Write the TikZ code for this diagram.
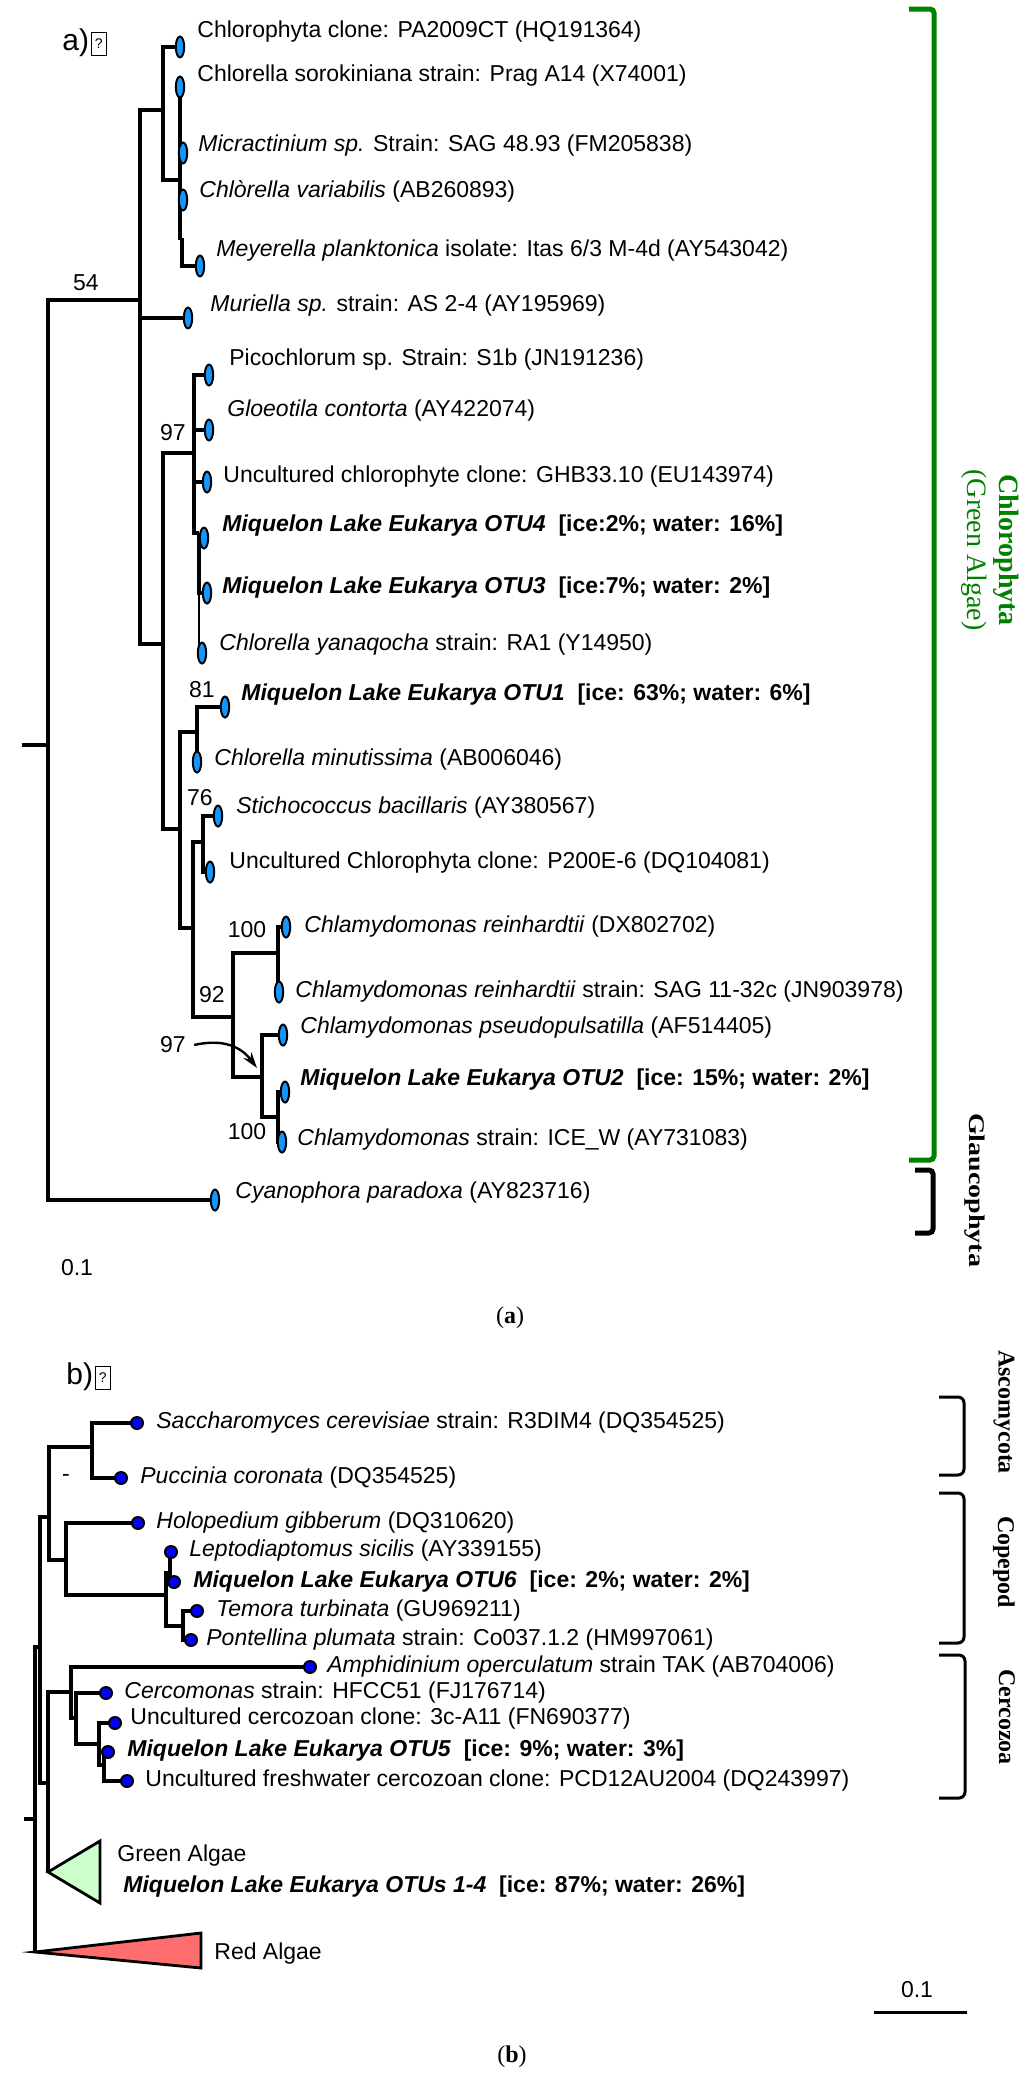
\documentclass[tikz,border=0pt]{standalone}
\usepackage{fontspec}
\setmainfont{Liberation Sans}
\newfontfamily\timesfont{Liberation Serif}
\usepackage{tikz}
\usetikzlibrary{arrows.meta,backgrounds,shapes.geometric}
\definecolor{tipblue}{RGB}{20,150,255}
\definecolor{cladegreen}{RGB}{0,128,0}
\definecolor{algaegreen}{RGB}{204,255,204}
\definecolor{algaered}{RGB}{255,110,110}
\newcommand{\otulabel}[2]{\textbf{\textit{Miquelon Lake Eukarya #1}\ \ [#2]}}
\newcommand{\missingglyph}{\kern1pt{\setlength{\fboxsep}{0pt}\setlength{\fboxrule}{0.4pt}\fbox{\parbox[c][11pt][c]{7pt}{\centering\fontsize{7}{7}\selectfont ?}}}}

\begin{document}
\begin{tikzpicture}[x=0.5pt,y=-0.5pt,
  branch/.style={line width=1.75pt},
  branchb/.style={line width=1.6pt},
  tipa/.style={ellipse,draw=black,fill=tipblue,line width=1pt,minimum width=4.2pt,minimum height=10.5pt,inner sep=0pt},
  tipb/.style={circle,draw=black,fill=blue,line width=1pt,minimum size=6pt,inner sep=0pt},
  leaf/.style={anchor=west,inner sep=0pt,font=\fontsize{11.5}{13}\selectfont},
  boot/.style={inner sep=0pt,font=\fontsize{11.5}{13}\selectfont},
  clade/.style={rotate=-90,inner sep=0pt,align=center,font=\timesfont\fontsize{12}{14}\selectfont},
  bracket/.style={line width=1.5pt,rounded corners=3pt}]
\useasboundingbox (0,0) rectangle (1024,2077);

% panel a
\node[anchor=west,inner sep=0pt,font=\fontsize{15}{18}\selectfont] (taga) at (62,43) {a)\missingglyph};

\coordinate (sa) at (22,745);
\coordinate (ra) at (48,745);
\coordinate (nA) at (140,300);
\coordinate (n1) at (163,110);
\coordinate (n1b) at (180,180);
\coordinate (n1c) at (182,238);
\coordinate (n2) at (163,644);
\coordinate (n97) at (194,453);
\coordinate (n97b) at (199,533);
\coordinate (n3) at (180,829);
\coordinate (n81) at (197,732);
\coordinate (n4) at (193,928);
\coordinate (n76) at (203,842);
\coordinate (n92) at (233,1017);
\coordinate (n100a) at (278,953);
\coordinate (n97c) at (262,1077);
\coordinate (n100b) at (278,1117);

\node[tipa] (tPA) at (180,47) {};
\node[tipa] (tSoro) at (180,87) {};
\node[tipa] (tMicr) at (183,153) {};
\node[tipa] (tVar) at (183,200) {};
\node[tipa] (tMey) at (200,266) {};
\node[tipa] (tMur) at (188,318) {};
\node[tipa] (tPico) at (209,375) {};
\node[tipa] (tGloe) at (209,430) {};
\node[tipa] (tGHB) at (207,482) {};
\node[tipa] (tOTU4) at (204,538) {};
\node[tipa] (tOTU3) at (207,593) {};
\node[tipa] (tYana) at (202,653) {};
\node[tipa] (tOTU1) at (225,707) {};
\node[tipa] (tMinu) at (197,762) {};
\node[tipa] (tStich) at (218,816) {};
\node[tipa] (tP200) at (210,872) {};
\node[tipa] (tReinA) at (286,927) {};
\node[tipa] (tReinB) at (279,992) {};
\node[tipa] (tPseu) at (283,1035) {};
\node[tipa] (tOTU2) at (285,1092) {};
\node[tipa] (tICE) at (282,1142) {};
\node[tipa] (tCyan) at (215,1200) {};

\begin{scope}[on background layer]
\fill[white] (0,0) rectangle (1024,2077);
\draw[branch] (sa) -- (ra);
\draw[branch] (ra) |- (nA);
\draw[branch] (ra) |- (tCyan.center);
\draw[branch] (nA) |- (n1);
\draw[branch] (nA) |- (tMur.center);
\draw[branch] (nA) |- (n2);
\draw[branch] (n1) |- (tPA.center);
\draw[branch] (n1) |- (n1b);
\draw[branch] (n1b) |- (tSoro.center);
\draw[branch] (n1b) |- (tMicr.center);
\draw[branch] (n1b) |- (tVar.center);
\draw[branch] (n1b) |- (n1c);
\draw[branch] (n1c) |- (tMey.center);
\draw[branch] (n2) |- (n97);
\draw[branch] (n2) |- (n3);
\draw[branch] (n97) |- (tPico.center);
\draw[branch] (n97) |- (tGloe.center);
\draw[branch] (n97) |- (tGHB.center);
\draw[branch] (n97) |- (n97b);
\draw[branch] (n97b) |- (tOTU4.center);
\draw[branch] (n97b) |- (tOTU3.center);
\draw[line width=1pt] (n97b) |- (tYana.center);
\draw[branch] (n3) |- (n81);
\draw[branch] (n3) |- (n4);
\draw[branch] (n81) |- (tOTU1.center);
\draw[branch] (n81) |- (tMinu.center);
\draw[branch] (n4) |- (n76);
\draw[branch] (n4) |- (n92);
\draw[branch] (n76) |- (tStich.center);
\draw[branch] (n76) |- (tP200.center);
\draw[branch] (n92) |- (n100a);
\draw[branch] (n92) |- (n97c);
\draw[branch] (n100a) |- (tReinA.center);
\draw[branch] (n100a) |- (tReinB.center);
\draw[branch] (n97c) |- (tPseu.center);
\draw[branch] (n97c) |- (n100b);
\draw[branch] (n100b) |- (tOTU2.center);
\draw[branch] (n100b) |- (tICE.center);
\end{scope}

\node[leaf] (lPA) at (197,32) {Chlorophyta clone: PA2009CT (HQ191364)};
\node[leaf] (lSoro) at (197,76) {Chlorella sorokiniana strain: Prag A14 (X74001)};
\node[leaf] (lMicr) at (198,146) {\textit{Micractinium sp.} Strain: SAG 48.93 (FM205838)};
\node[leaf] (lVar) at (199,191) {\textit{Chlòrella variabilis} (AB260893)};
\node[leaf] (lMey) at (216,251) {\textit{Meyerella planktonica} isolate: Itas 6/3 M-4d (AY543042)};
\node[leaf] (lMur) at (210,306) {\textit{Muriella sp.} strain: AS 2-4 (AY195969)};
\node[leaf] (lPico) at (229,360) {Picochlorum sp. Strain: S1b (JN191236)};
\node[leaf] (lGloe) at (227,411) {\textit{Gloeotila contorta} (AY422074)};
\node[leaf] (lGHB) at (223,477) {Uncultured chlorophyte clone: GHB33.10 (EU143974)};
\node[leaf] (lOTU4) at (222,526) {\otulabel{OTU4}{ice:2\%; water: 16\%}};
\node[leaf] (lOTU3) at (222,588) {\otulabel{OTU3}{ice:7\%; water: 2\%}};
\node[leaf] (lYana) at (219,645) {\textit{Chlorella yanaqocha} strain: RA1 (Y14950)};
\node[leaf] (lOTU1) at (241,695) {\otulabel{OTU1}{ice: 63\%; water: 6\%}};
\node[leaf] (lMinu) at (214,760) {\textit{Chlorella minutissima} (AB006046)};
\node[leaf] (lStich) at (236,808) {\textit{Stichococcus bacillaris} (AY380567)};
\node[leaf] (lP200) at (229,863) {Uncultured Chlorophyta clone: P200E-6 (DQ104081)};
\node[leaf] (lReinA) at (304,927) {\textit{Chlamydomonas reinhardtii} (DX802702)};
\node[leaf] (lReinB) at (295,992) {\textit{Chlamydomonas reinhardtii} strain: SAG 11-32c (JN903978)};
\node[leaf] (lPseu) at (300,1028) {\textit{Chlamydomonas pseudopulsatilla} (AF514405)};
\node[leaf] (lOTU2) at (300,1080) {\otulabel{OTU2}{ice: 15\%; water: 2\%}};
\node[leaf] (lICE) at (297,1140) {\textit{Chlamydomonas} strain: ICE\_W (AY731083)};
\node[leaf] (lCyan) at (235,1193) {\textit{Cyanophora paradoxa} (AY823716)};

\node[boot] (b54) at (86,283) {54};
\node[boot] (b97a) at (173,433) {97};
\node[boot] (b81) at (202,690) {81};
\node[boot] (b76) at (200,798) {76};
\node[boot] (b92) at (212,995) {92};
\node[boot] (b100a) at (247,930) {100};
\node[boot] (b97c) at (173,1045) {97};
\node[boot] (b100b) at (247,1132) {100};
\coordinate (a97) at (257,1068);
\draw[line width=1.2pt,-{Stealth[length=8pt,width=5pt]}] ([xshift=4pt]b97c.east) .. controls (225,1038) and (242,1048) .. (a97);

\node[boot] (sca) at (77,1268) {0.1};

\draw[cladegreen,line width=2.5pt,rounded corners=2pt] (909,9) -- (934,9) -- (934,1160) -- (909,1160);
\node[clade,text=cladegreen,font=\timesfont\fontsize{14}{16}\selectfont] (chloro) at (990,550) {\textbf{Chlorophyta}\\(Green Algae)};
\draw[line width=2.5pt,rounded corners=2pt] (915,1170) -- (933,1170) -- (933,1233) -- (915,1233);
\node[clade,font=\timesfont\bfseries\fontsize{14}{17}\selectfont] (glauco) at (975,1190) {\scalebox{1}[0.8]{Glaucophyta}};

\node[inner sep=0pt,font=\timesfont\fontsize{12}{14}\selectfont] (capa) at (510,1318) {(\textbf{a})};

% panel b
\node[anchor=west,inner sep=0pt,font=\fontsize{15}{18}\selectfont] (tagb) at (66,1377) {b)\missingglyph};

\coordinate (sb) at (24,1819);
\coordinate (rb) at (35,1819);
\coordinate (nX) at (40,1647);
\coordinate (nAC) at (49,1517);
\coordinate (nAsc) at (92,1447);
\coordinate (nCop) at (66,1560);
\coordinate (nCop2) at (166,1595);
\coordinate (nLe) at (170,1573);
\coordinate (nTP) at (183,1626);
\coordinate (nY) at (48,1783);
\coordinate (nZ) at (71,1692);
\coordinate (nW) at (76,1718);
\coordinate (nV) at (99,1744);
\coordinate (nU) at (104,1765);
\coordinate (gApex) at (48,1872);
\coordinate (rApex) at (35,1952);

\node[tipb] (tSacc) at (137,1423) {};
\node[tipb] (tPucc) at (121,1478) {};
\node[tipb] (tHolo) at (138,1523) {};
\node[tipb] (tLept) at (171,1552) {};
\node[tipb] (tOTU6) at (174,1582) {};
\node[tipb] (tTemo) at (197,1611) {};
\node[tipb] (tPont) at (191,1640) {};
\node[tipb] (tAmph) at (310,1667) {};
\node[tipb] (tCerc) at (106,1693) {};
\node[tipb] (tA11) at (115,1723) {};
\node[tipb] (tOTU5) at (108,1752) {};
\node[tipb] (tPCD) at (127,1781) {};

\begin{scope}[on background layer]
\draw[branchb] (sb) -- (rb);
\draw[branchb] (rb) |- (nX);
\draw[branchb] (rb) |- (rApex);
\draw[branchb] (nX) |- (nAC);
\draw[branchb] (nX) |- (nY);
\draw[branchb] (nAC) |- (nAsc);
\draw[branchb] (nAC) |- (nCop);
\draw[branchb] (nAsc) |- (tSacc.center);
\draw[branchb] (nAsc) |- (tPucc.center);
\draw[branchb] (nCop) |- (tHolo.center);
\draw[branchb] (nCop) |- (nCop2);
\draw[branchb] (nCop2) |- (nLe);
\draw[branchb] (nCop2) |- (nTP);
\draw[branchb] (nLe) |- (tLept.center);
\draw[branchb] (nLe) |- (tOTU6.center);
\draw[branchb] (nTP) |- (tTemo.center);
\draw[branchb] (nTP) |- (tPont.center);
\draw[branchb] (nY) |- (nZ);
\draw[branchb] (nY) |- (gApex);
\draw[branchb] (nZ) |- (tAmph.center);
\draw[branchb] (nZ) |- (nW);
\draw[branchb] (nW) |- (tCerc.center);
\draw[branchb] (nW) |- (nV);
\draw[branchb] (nV) |- (tA11.center);
\draw[branchb] (nV) |- (nU);
\draw[branchb] (nU) |- (tOTU5.center);
\draw[branchb] (nU) |- (tPCD.center);
\end{scope}

\draw[fill=algaegreen,line width=1.4pt] (gApex) -- (100,1841) -- (100,1903) -- cycle;
\draw[fill=algaered,line width=1.4pt] (rApex) -- (201,1933) -- (201,1968) -- cycle;

\node[leaf] (lSacc) at (156,1423) {\textit{Saccharomyces cerevisiae} strain: R3DIM4 (DQ354525)};
\node[leaf] (lPucc) at (140,1478) {\textit{Puccinia coronata} (DQ354525)};
\node[leaf] (lHolo) at (156,1523) {\textit{Holopedium gibberum} (DQ310620)};
\node[leaf] (lLept) at (189,1551) {\textit{Leptodiaptomus sicilis} (AY339155)};
\node[leaf] (lOTU6) at (193,1582) {\otulabel{OTU6}{ice: 2\%; water: 2\%}};
\node[leaf] (lTemo) at (216,1611) {\textit{Temora turbinata} (GU969211)};
\node[leaf] (lPont) at (206,1640) {\textit{Pontellina plumata} strain: Co037.1.2 (HM997061)};
\node[leaf] (lAmph) at (327,1667) {\textit{Amphidinium operculatum} strain TAK (AB704006)};
\node[leaf] (lCerc) at (124,1693) {\textit{Cercomonas} strain: HFCC51 (FJ176714)};
\node[leaf] (lA11) at (130,1719) {Uncultured cercozoan clone: 3c-A11 (FN690377)};
\node[leaf] (lOTU5) at (127,1751) {\otulabel{OTU5}{ice: 9\%; water: 3\%}};
\node[leaf] (lPCD) at (145,1781) {Uncultured freshwater cercozoan clone: PCD12AU2004 (DQ243997)};
\node[leaf] (lGreen) at (117,1856) {Green Algae};
\node[leaf] (lOTUs) at (123,1887) {\otulabel{OTUs 1-4}{ice: 87\%; water: 26\%}};
\node[leaf] (lRed) at (214,1954) {Red Algae};
\node[boot] (bdash) at (66,1478) {-};

\draw[bracket] (939,1397) -- (964,1397) -- (964,1475) -- (939,1475);
\draw[bracket] (939,1493) -- (964,1493) -- (964,1643) -- (939,1643);
\draw[bracket] (939,1655) -- (965,1655) -- (965,1798) -- (939,1798);
\node[clade,font=\timesfont\bfseries\fontsize{12}{14}\selectfont] (asco) at (1004,1412) {Ascomycota};
\node[clade,font=\timesfont\bfseries\fontsize{12}{14}\selectfont] (cope) at (1004,1562) {Copepod};
\node[clade,font=\timesfont\bfseries\fontsize{12}{14}\selectfont] (cerco) at (1007,1717) {Cercozoa};

\coordinate (sbl) at (874,2012);
\coordinate (sbr) at (967,2012);
\draw[line width=1.5pt] (sbl) -- (sbr);
\node[boot] (scb) at (917,1990) {0.1};

\node[inner sep=0pt,font=\timesfont\fontsize{12}{14}\selectfont] (capb) at (512,2057) {(\textbf{b})};
\end{tikzpicture}
\end{document}
